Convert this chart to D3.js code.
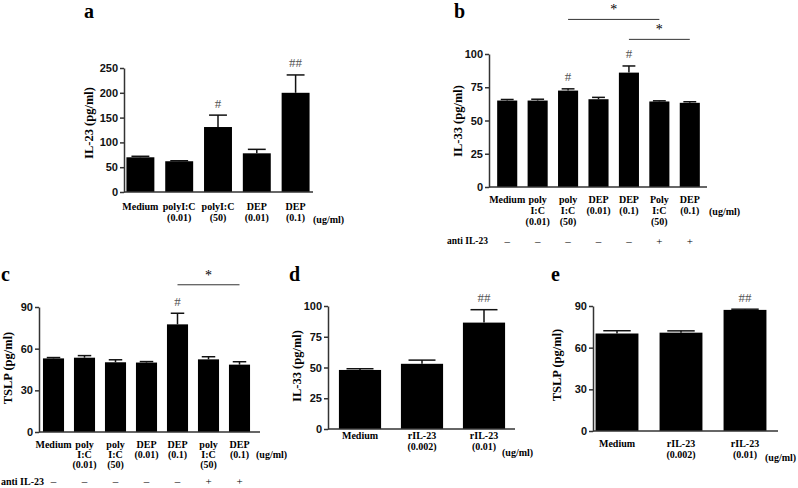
<!DOCTYPE html>
<html>
<head>
<meta charset="utf-8">
<script src="https://cdn.jsdelivr.net/npm/d3@7"></script>
<style>
  body { margin: 0; background: #fff; }
  svg { display: block; }
</style>
</head>
<body>
<svg width="798" height="488"></svg>
<script>
// ---- data ----

// a: IL-23
var aLabels = [["Medium"], ["polyI:C", "(0.01)"], ["polyI:C", "(50)"], ["DEP", "(0.01)"], ["DEP", "(0.1)"]];
var aMeans = [70, 62, 131, 78, 200];
var aSem = [2, 1, 24, 8, 36];
var aMarks = ["", "", "#", "", "##"];
var aTicks = [0, 50, 100, 150, 200, 250];

// b: IL-33 with anti IL-23
var bLabels = [["Medium"], ["poly", "I:C", "(0.01)"], ["poly", "I:C", "(50)"], ["DEP", "(0.01)"], ["DEP", "(0.1)"], ["Poly", "I:C", "(50)"], ["DEP", "(0.1)"]];
var bMeans = [65, 65, 72.5, 66, 86, 64.3, 63.3];
var bSem = [0.8, 1, 1.3, 1.4, 5, 0.5, 0.8];
var bMarks = ["", "", "#", "", "#", "", ""];
var bTicks = [0, 25, 50, 75, 100];
var bAnti = ["\u2013", "\u2013", "\u2013", "\u2013", "\u2013", "+", "+"];
var bSig = [{from: 2, to: 5, level: 126}, {from: 4, to: 6, level: 111}];

// c: TSLP with anti IL-23
var cLabels = [["Medium"], ["poly", "I:C", "(0.01)"], ["poly", "I:C", "(50)"], ["DEP", "(0.01)"], ["DEP", "(0.1)"], ["poly", "I:C", "(50)"], ["DEP", "(0.1)"]];
var cMeans = [53, 53.5, 50.2, 50, 77.5, 52.3, 48.5];
var cSem = [0.6, 1.5, 1.8, 0.7, 8, 1.9, 2.1];
var cMarks = ["", "", "", "", "#", "", ""];
var cTicks = [0, 30, 60, 90];
var cAnti = ["\u2013", "\u2013", "\u2013", "\u2013", "\u2013", "+", "+"];
var cSig = [{from: 4, to: 6, level: 106}];

// d: IL-33 with rIL-23
var dLabels = [["Medium"], ["rIL-23", "(0.002)"], ["rIL-23", "(0.01)"]];
var dMeans = [48, 53, 86.5];
var dSem = [1, 3, 10.5];
var dMarks = ["", "", "##"];
var dTicks = [0, 25, 50, 75, 100];

// e: TSLP with rIL-23
var eLabels = [["Medium"], ["rIL-23", "(0.002)"], ["rIL-23", "(0.01)"]];
var eMeans = [70.2, 70.8, 87.2];
var eSem = [2, 1.3, 0.5];
var eMarks = ["", "", "##"];
var eTicks = [0, 30, 60, 90];

// ---- layout of each panel ----
var panels = [
  {letter: "a", lx: 84, ly: 18, ylab: "IL-23 (pg/ml)", ylx: 89, yly: 123,
   ax: 124, axEnd: 313, xr: [121, 315], yr: [192, 68], pad: 0.28,
   labels: aLabels, means: aMeans, sem: aSem, marks: aMarks, ticks: aTicks,
   labY: 206, lineH: 11, labFs: 10, unitX: 313, unitY: 219},
  {letter: "b", lx: 454, ly: 18, ylab: "IL-33 (pg/ml)", ylx: 458, yly: 121,
   ax: 489, axEnd: 707, xr: [492, 705], yr: [187, 54], pad: 0.34,
   labels: bLabels, means: bMeans, sem: bSem, marks: bMarks, ticks: bTicks,
   labY: 199, lineH: 11.3, labFs: 10, unitX: 709, unitY: 211,
   anti: bAnti, antiX: 488, antiY: 241, antiFs: 9.5, sig: bSig},
  {letter: "c", lx: 1, ly: 281, ylab: "TSLP (pg/ml)", ylx: 8, yly: 368,
   ax: 39, axEnd: 260, xr: [38, 255], yr: [432, 307], pad: 0.32,
   labels: cLabels, means: cMeans, sem: cSem, marks: cMarks, ticks: cTicks,
   labY: 444, lineH: 10, labFs: 10, unitX: 256, unitY: 454,
   anti: cAnti, antiX: 44, antiY: 481, antiFs: 10, sig: cSig},
  {letter: "d", lx: 289, ly: 281, ylab: "IL-33 (pg/ml)", ylx: 297, yly: 366,
   ax: 328, axEnd: 515, xr: [329, 515], yr: [429, 306], pad: 0.32,
   labels: dLabels, means: dMeans, sem: dSem, marks: dMarks, ticks: dTicks,
   labY: 435, lineH: 11, labFs: 10, unitX: 502, unitY: 452},
  {letter: "e", lx: 551, ly: 281, ylab: "TSLP (pg/ml)", ylx: 557, yly: 365,
   ax: 593, axEnd: 778, xr: [585, 777], yr: [431, 306], pad: 0.33,
   labels: eLabels, means: eMeans, sem: eSem, marks: eMarks, ticks: eTicks,
   labY: 443, lineH: 11, labFs: 10, unitX: 765, unitY: 457}
];

var svg = d3.select("svg");
var serif = "'Liberation Serif', 'Times New Roman', serif";
var sans = "'Liberation Sans', Arial, sans-serif";

panels.forEach(function(p) {
  var g = svg.append("g");
  var idx = d3.range(p.means.length);

  var x = d3.scaleBand().domain(idx).range(p.xr).paddingInner(p.pad).paddingOuter(p.pad / 2);
  var y = d3.scaleLinear().domain([0, d3.max(p.ticks)]).range(p.yr);
  var cx = function(i) { return x(i) + x.bandwidth() / 2; };

  // panel letter
  g.append("text").attr("x", p.lx).attr("y", p.ly).text(p.letter)
    .style("font-family", serif).style("font-weight", "bold").style("font-size", "20px");

  // y label
  g.append("text")
    .attr("transform", "translate(" + p.ylx + "," + p.yly + ") rotate(-90)")
    .attr("text-anchor", "middle").attr("dominant-baseline", "central")
    .text(p.ylab)
    .style("font-family", serif).style("font-weight", "bold").style("font-size", "12.5px");

  // bars
  g.selectAll(".bar").data(p.means).enter().append("rect")
    .attr("x", function(d, i) { return x(i); })
    .attr("y", function(d) { return y(d); })
    .attr("width", x.bandwidth())
    .attr("height", function(d) { return y(0) - y(d); })
    .attr("fill", "#000");

  // error bars (upper only)
  var cap = x.bandwidth() * 0.32;
  idx.forEach(function(i) {
    var top = y(p.means[i] + p.sem[i]);
    g.append("line").attr("x1", cx(i)).attr("x2", cx(i))
      .attr("y1", y(p.means[i])).attr("y2", top)
      .attr("stroke", "#111").attr("stroke-width", 1.5);
    g.append("line").attr("x1", cx(i) - cap).attr("x2", cx(i) + cap)
      .attr("y1", top).attr("y2", top)
      .attr("stroke", "#111").attr("stroke-width", 1.5);
    if (p.marks[i]) {
      g.append("text").attr("x", cx(i)).attr("y", top - 12)
        .attr("text-anchor", "middle").attr("dominant-baseline", "central")
        .text(p.marks[i])
        .style("font-family", serif).style("font-size", "13px").style("fill", "#555");
    }
  });

  // y axis
  var yAxis = g.append("g").attr("transform", "translate(" + p.ax + ",0)")
    .call(d3.axisLeft(y).tickValues(p.ticks).tickSize(4).tickSizeOuter(0).tickPadding(2));
  yAxis.selectAll("path, line").attr("stroke", "#333").attr("stroke-width", 1.5);
  yAxis.selectAll("text").style("font-family", sans).style("font-weight", "bold")
    .style("font-size", "11px").style("fill", "#111");

  // x axis line
  g.append("line").attr("x1", p.ax).attr("x2", p.axEnd)
    .attr("y1", y(0)).attr("y2", y(0))
    .attr("stroke", "#333").attr("stroke-width", 1.5);

  // category labels
  p.labels.forEach(function(lines, i) {
    lines.forEach(function(s, j) {
      g.append("text").attr("x", cx(i)).attr("y", p.labY + j * p.lineH)
        .attr("text-anchor", "middle").attr("dominant-baseline", "central")
        .text(s)
        .style("font-family", serif).style("font-weight", "bold").style("font-size", p.labFs + "px");
    });
  });
  g.append("text").attr("x", p.unitX).attr("y", p.unitY)
    .attr("dominant-baseline", "central").text("(ug/ml)")
    .style("font-family", serif).style("font-weight", "bold").style("font-size", p.labFs + "px");

  // anti IL-23 row
  if (p.anti) {
    g.append("text").attr("x", p.antiX).attr("y", p.antiY)
      .attr("text-anchor", "end").attr("dominant-baseline", "central").text("anti IL-23")
      .style("font-family", serif).style("font-weight", "bold").style("font-size", p.antiFs + "px");
    p.anti.forEach(function(s, i) {
      g.append("text").attr("x", cx(i)).attr("y", p.antiY)
        .attr("text-anchor", "middle").attr("dominant-baseline", "central")
        .text(s)
        .style("font-family", serif).style("font-size", "11px");
    });
  }

  // significance brackets
  (p.sig || []).forEach(function(s) {
    var ly = y(s.level);
    g.append("line").attr("x1", cx(s.from)).attr("x2", cx(s.to))
      .attr("y1", ly).attr("y2", ly)
      .attr("stroke", "#333").attr("stroke-width", 1);
    g.append("text").attr("x", (cx(s.from) + cx(s.to)) / 2).attr("y", ly - 5)
      .attr("text-anchor", "middle").text("*")
      .style("font-family", serif).style("font-size", "14px");
  });
});
</script>
</body>
</html>
